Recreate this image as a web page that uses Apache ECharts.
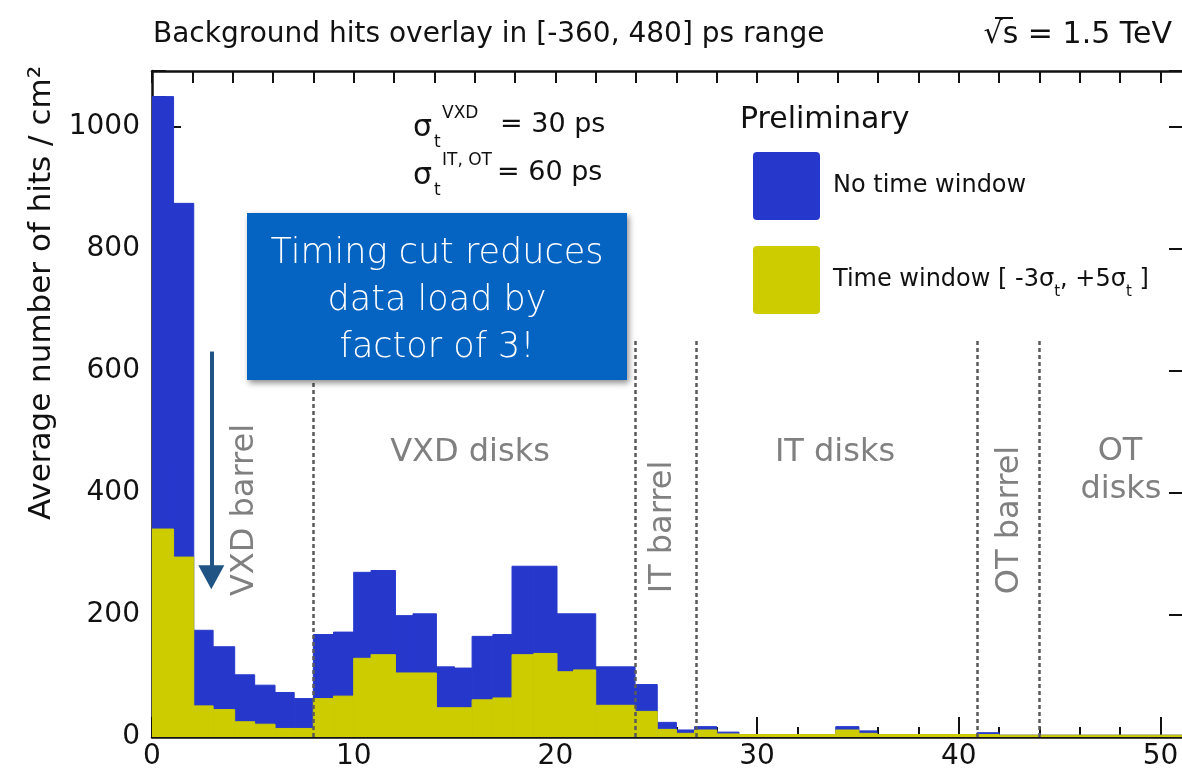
<!DOCTYPE html>
<html>
<head>
<meta charset="utf-8">
<script src="https://cdn.jsdelivr.net/npm/echarts@6/dist/echarts.min.js"></script>
<style>
html,body{margin:0;padding:0;background:#ffffff;overflow:hidden;width:1182px;height:774px;}
#chart{width:1200px;height:774px;}
</style>
</head>
<body>
<div id="chart"></div>
<script>
// ---------------- data ----------------
const binEdges = [0, 1.07, 2.07, 3.03, 4.1, 5.09, 6.1, 7.05, 8, 9, 10, 10.86, 12.07, 12.94, 14.1, 15,
  15.87, 16.9, 17.85, 18.93, 20.08, 20.9, 22, 23.95, 25.05, 26, 26.9, 28, 29.1, 33.9, 35.05, 35.95,
  40.9, 42, 51.86];
const noWindow = [1050, 875, 175, 148, 102, 85, 73, 63, 168, 172, 270, 273, 199, 202, 115, 113,
  165, 168, 280, 280, 202, 202, 115, 86, 24, 11.5, 17, 8, 4, 17, 10, 4, 7, 3];
const withWindow = [341, 295, 51, 45, 25, 21, 14, 14, 63, 67, 129, 135, 105, 105, 48, 48,
  61, 64, 135, 137, 107, 110, 52, 42, 12.5, 6, 11.5, 5, 4, 11.5, 6, 4, 4, 3];
const separators = [8, 23.95, 27, 40.9, 44];
const separatorTop = 652;
const arrowX = 2.94, arrowFrom = 632, arrowTo = 262;
const xTickMajor = 10, xTickMinor = 2, xMin = 0, xMax = 51.86;
const yTickMajor = 200, yTickMinor = 50, yMin = 0, yMax = 1092;
const seriesNames = ['No time window', 'Time window [ -3σt, +5σt ]'];

// ------------------------------------------------------------
const FONT = 'DejaVu Sans';
const BLUE = '#2638cc', YELLOW = '#cccc00';

function binsOf(values) {
  return values.map((v, i) => [binEdges[i], binEdges[i + 1], v]);
}
function renderBin(params, api) {
  const top = api.coord([api.value(0), api.value(2)]);
  const bot = api.coord([api.value(1), 0]);
  const c = api.visual('color');
  return {
    type: 'rect',
    shape: { x: top[0], y: top[1], width: bot[0] - top[0], height: bot[1] - top[1] },
    style: { fill: c, stroke: c, lineWidth: 1 }
  };
}

const tickStyle = { color: '#111', width: 2 };
function xAx(pos, interval, len, labels, line) {
  return {
    type: 'value', min: xMin, max: xMax, interval: interval, position: pos,
    axisLine: { show: line, onZero: false, lineStyle: { color: '#111', width: 2.5 } },
    axisTick: { show: true, inside: true, length: len, lineStyle: tickStyle },
    axisLabel: { show: labels, fontFamily: FONT, fontSize: 28, color: '#111', margin: 6, showMaxLabel: false,
      formatter: v => String(v) },
    splitLine: { show: false }
  };
}
function yAx(pos, interval, len, labels, line) {
  return {
    type: 'value', min: yMin, max: yMax, interval: interval, position: pos,
    axisLine: { show: line, onZero: false, lineStyle: { color: '#111', width: 2.5 } },
    axisTick: { show: true, inside: true, length: len, lineStyle: tickStyle },
    axisLabel: { show: labels, fontFamily: FONT, fontSize: 28, color: '#111', margin: 12, showMaxLabel: false,
      formatter: v => String(v) },
    splitLine: { show: false }
  };
}

const chart = echarts.init(document.getElementById('chart'));
const grey = '#808080';
function regionText(t, x, y, rot) {
  return { type: 'text', x: x, y: y, rotation: rot ? Math.PI / 2 : 0, z: 50,
    style: { text: t, fill: grey, font: '32px "' + FONT + '"', align: 'center', verticalAlign: 'middle' } };
}
function plainText(t, x, y, size, align) {
  return { type: 'text', x: x, y: y, z: 50,
    style: { text: t, fill: '#111', font: size + 'px "' + FONT + '"', align: align || 'left', verticalAlign: 'middle' } };
}
const legendIcon = 'path://M4,0 L63,0 Q67,0 67,4 L67,64 Q67,68 63,68 L4,68 Q0,68 0,64 L0,4 Q0,0 4,0 Z';

const option = {
  animation: false,
  backgroundColor: '#ffffff',
  grid: { left: 152, right: 2, top: 71, bottom: 37, containLabel: false },
  title: {
    text: 'Background hits overlay in [-360, 480] ps range',
    left: 148, top: 16,
    textStyle: { fontFamily: FONT, fontSize: 28, fontWeight: 'normal', color: '#111' }
  },
  legend: {
    orient: 'vertical', left: 753, top: 152, padding: 0, itemWidth: 67, itemHeight: 68, itemGap: 26,
    icon: legendIcon, data: seriesNames,
    formatter: function (name) {
      if (name === seriesNames[1]) return '{a|Time window [ -3σ}{s|t}{a|, +5σ}{s|t}{a| ]}';
      return '{a|' + name + '}';
    },
    textStyle: {
      padding: [0, 0, 0, 8],
      rich: {
        a: { fontFamily: FONT, fontSize: 24, color: '#111' },
        s: { fontFamily: FONT, fontSize: 15, color: '#111', verticalAlign: 'bottom', padding: [0, 0, -8, 0] }
      }
    }
  },
  xAxis: [
    xAx('bottom', xTickMajor, 20, true, true),
    xAx('bottom', xTickMinor, 10, false, false),
    xAx('top', xTickMinor, 12, false, true)
  ],
  yAxis: [
    yAx('left', yTickMajor, 29, true, true),
    yAx('left', yTickMinor, 14, false, false),
    yAx('right', yTickMajor, 29, false, true),
    yAx('right', yTickMinor, 14, false, false)
  ],
  series: [
    {
      name: seriesNames[0], type: 'custom', renderItem: renderBin, clip: true,
      itemStyle: { color: BLUE }, encode: { x: [0, 1], y: 2 },
      data: binsOf(noWindow), z: 2
    },
    {
      name: seriesNames[1], type: 'custom', renderItem: renderBin, clip: true,
      itemStyle: { color: YELLOW }, encode: { x: [0, 1], y: 2 },
      data: binsOf(withWindow), z: 3
    },
    {
      type: 'line', data: [], z: 10, silent: true,
      markLine: {
        silent: true, symbol: ['none', 'none'], label: { show: false }, animation: false,
        lineStyle: { color: '#5a5a5a', width: 2.5, type: [4, 3] },
        data: separators.map(s => [{ coord: [s, 0] }, { coord: [s, separatorTop] }])
      }
    },
    {
      type: 'line', data: [], z: 12, silent: true,
      markLine: {
        silent: true, symbol: ['none', 'triangle'], symbolSize: [26, 24], label: { show: false }, animation: false,
        lineStyle: { color: '#1f5485', width: 4, type: 'solid' },
        data: [[{ coord: [arrowX, arrowFrom] }, { coord: [arrowX, arrowTo] }]]
      }
    }
  ],
  graphic: [
    { type: 'text', x: 42, y: 293, rotation: Math.PI / 2, z: 50,
      style: { text: 'Average number of hits / cm²', fill: '#111', font: '31px "' + FONT + '"', align: 'center', verticalAlign: 'middle' } },
    plainText('√s = 1.5 TeV', 1172, 35, 30, 'right'),
    { type: 'line', z: 50, shape: { x1: 995, y1: 18, x2: 1013, y2: 18 }, style: { stroke: '#111', lineWidth: 2 } },
    plainText('σ', 413, 128, 30),
    plainText('VXD', 442, 114, 17),
    plainText('t', 434, 143, 17),
    plainText('= 30 ps', 500, 125, 27),
    plainText('σ', 413, 176, 30),
    plainText('IT, OT', 442, 161, 17),
    plainText('t', 434, 191, 17),
    plainText('= 60 ps', 497, 173, 27),
    plainText('Preliminary', 740, 120, 30),
    regionText('VXD barrel', 245, 510, true),
    regionText('VXD disks', 470, 453, false),
    regionText('IT barrel', 663, 527, true),
    regionText('IT disks', 835, 453, false),
    regionText('OT barrel', 1010, 520, true),
    regionText('OT', 1120, 452, false),
    regionText('disks', 1121, 490, false),
    { type: 'rect', z: 60, shape: { x: 247, y: 213, width: 380, height: 167 },
      style: { fill: '#0563c1', shadowBlur: 6, shadowColor: 'rgba(0,0,0,0.45)', shadowOffsetX: 2, shadowOffsetY: 3 } },
    { type: 'text', z: 61, x: 437, y: 301,
      style: { text: 'Timing cut reduces\ndata load by\nfactor of 3!', fill: '#ffffff', font: '200 35px "' + FONT + '"',
        align: 'center', verticalAlign: 'middle', lineHeight: 47 } }
  ]
};
chart.setOption(option);
</script>
</body>
</html>
